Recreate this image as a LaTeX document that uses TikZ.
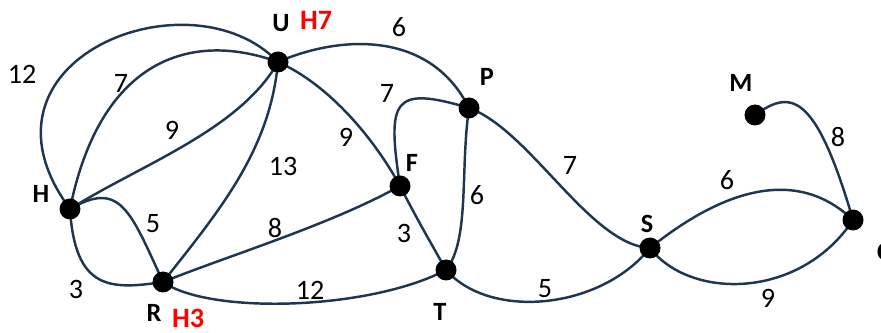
\documentclass[tikz,border=0pt]{standalone}
\usepackage{fontspec}
\setmainfont{Carlito}
\begin{document}
\begin{tikzpicture}[x=0.02cm,y=-0.02cm,
  edge/.style={draw=edgecol,line width=1.4pt},
  vtx/.style={circle,fill=black,inner sep=0pt,minimum size=0.42cm},
  vlab/.style={font=\fontsize{15}{17}\selectfont\bfseries,inner sep=0pt},
  hlab/.style={font=\fontsize{16}{18}\selectfont\bfseries,text=red,inner sep=0pt},
  wlab/.style={font=\fontsize{16}{18}\selectfont,inner sep=0pt}]
\definecolor{edgecol}{HTML}{1F3650}
\useasboundingbox (0,0) rectangle (881,333);
% vertex positions
\coordinate (U) at (278,62);
\coordinate (H) at (70,209);
\coordinate (R) at (163,282);
\coordinate (F) at (400,186);
\coordinate (P) at (469,108);
\coordinate (T) at (446,270);
\coordinate (S) at (650,248);
\coordinate (M) at (755,115);
\coordinate (C) at (853,220);
% edges
\draw[edge] (H) .. controls (-40,60) and (190,-30) .. (U);
\draw[edge] (H) .. controls (100,60) and (190,30) .. (U);
\draw[edge] (H) .. controls (140,165) and (240,130) .. (U);
\draw[edge] (U) .. controls (270,150) and (220,210) .. (R);
\draw[edge] (H) .. controls (120,180) and (130,210) .. (R);
\draw[edge] (H) .. controls (75,290) and (110,290) .. (R);
\draw[edge] (R) .. controls (230,255) and (330,225) .. (F);
\draw[edge] (R) .. controls (210,315) and (370,310) .. (T);
\draw[edge] (U) .. controls (330,85) and (375,140) .. (F);
\draw[edge] (F) .. controls (420,225) and (435,250) .. (T);
\draw[edge] (U) .. controls (340,35) and (430,30) .. (P);
\draw[edge] (F) .. controls (387,100) and (392,85) .. (P);
\draw[edge] (P) .. controls (460,170) and (470,240) .. (T);
\draw[edge] (P) .. controls (530,130) and (590,245) .. (S);
\draw[edge] (T) .. controls (490,320) and (600,310) .. (S);
\draw[edge] (S) .. controls (710,200) and (790,160) .. (C);
\draw[edge] (S) .. controls (690,300) and (800,300) .. (C);
\draw[edge] (M) .. controls (790,90) and (815,90) .. (C);
% vertices
\foreach \v in {U,H,R,F,P,T,S,M,C} \node[vtx] (n\v) at (\v) {};
% vertex labels
\node[vlab] (lU) at (281,23) {U};
\node[hlab] (hU) at (316,20) {H7};
\node[vlab] (lH) at (41,194) {H};
\node[vlab] (lR) at (154,313) {R};
\node[hlab] (hR) at (188,318) {H3};
\node[vlab] (lF) at (412,163) {F};
\node[vlab] (lP) at (487,77) {P};
\node[vlab] (lT) at (440,312) {T};
\node[vlab] (lS) at (647,224) {S};
\node[vlab] (lM) at (741,83) {M};
\node[vlab] (lC) at (884,252) {C};
% weights
\node[wlab] (w1) at (22,74) {12};
\node[wlab] (w2) at (121,83) {7};
\node[wlab] (w3) at (172,130) {9};
\node[wlab] (w4) at (283,166) {13};
\node[wlab] (w5) at (153,224) {5};
\node[wlab] (w6) at (76,289) {3};
\node[wlab] (w7) at (275,228) {8};
\node[wlab] (w8) at (310,290) {12};
\node[wlab] (w9) at (346,137) {9};
\node[wlab] (w10) at (387,93) {7};
\node[wlab] (w11) at (399,27) {6};
\node[wlab] (w12) at (477,195) {6};
\node[wlab] (w13) at (404,233) {3};
\node[wlab] (w14) at (570,165) {7};
\node[wlab] (w15) at (727,180) {6};
\node[wlab] (w16) at (545,289) {5};
\node[wlab] (w17) at (768,298) {9};
\node[wlab] (w18) at (838,137) {8};
\end{tikzpicture}
\end{document}
